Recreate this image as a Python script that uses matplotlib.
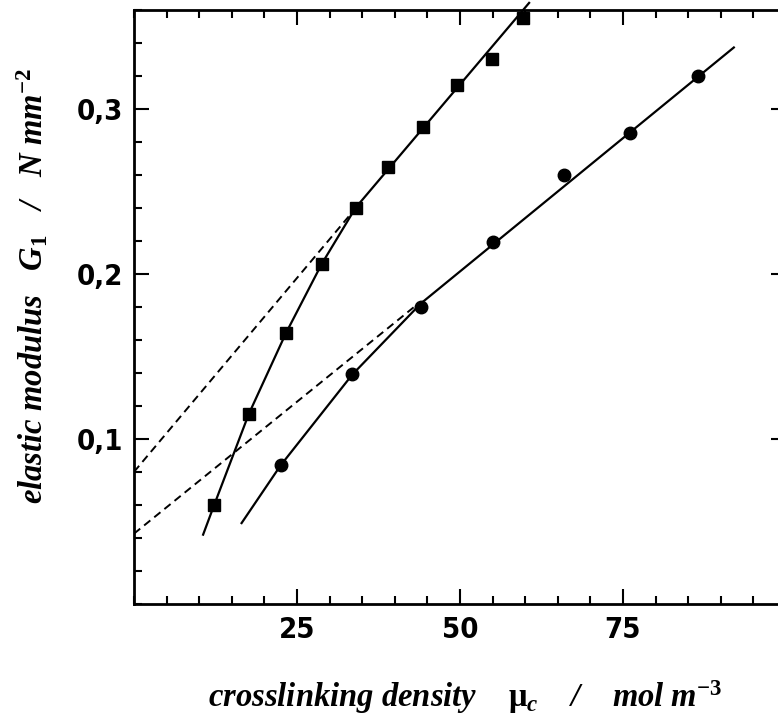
import matplotlib
matplotlib.use("Agg")
import matplotlib.pyplot as plt
from matplotlib.ticker import MultipleLocator, FixedLocator, FixedFormatter

# ---- data ----
sq_x = [12.3, 17.6, 23.3, 28.8, 34.0, 38.9, 44.3, 49.6, 54.9, 59.7]
sq_y = [0.060, 0.115, 0.164, 0.206, 0.240, 0.2645, 0.289, 0.314, 0.330, 0.355]
ci_x = [22.5, 33.5, 44.0, 55.0, 66.0, 76.0, 86.5]
ci_y = [0.084, 0.139, 0.180, 0.219, 0.2595, 0.285, 0.3195]

# fitted curves (solid) and extrapolations (dashed)
sq_solid_x = [10.6, 12.3, 17.6, 23.3, 28.8, 34.0, 60.6]
sq_solid_y = [0.042, 0.060, 0.115, 0.164, 0.206, 0.240, 0.364]
sq_dash_x = [0.0, 33.0]
sq_dash_y = [0.080, 0.235]
ci_solid_x = [16.5, 22.5, 33.5, 44.0, 92.0]
ci_solid_y = [0.049, 0.084, 0.139, 0.182, 0.337]
ci_dash_x = [0.0, 43.0]
ci_dash_y = [0.0426, 0.180]

x_major = [25, 50, 75]
x_labels = ["25", "50", "75"]
y_major = [0.1, 0.2, 0.3]
y_labels = ["0,1", "0,2", "0,3"]

xlabel = "crosslinking density    $\\mathrm{\\mu}_{c}$    /    mol m$^{-3}$"
ylabel = "elastic modulus   G$_{1}$   /   N mm$^{-2}$"

plt.rcParams['mathtext.fontset'] = 'custom'
plt.rcParams['mathtext.rm'] = 'Liberation Serif:bold'
plt.rcParams['mathtext.it'] = 'Liberation Serif:bold:italic'
plt.rcParams['mathtext.bf'] = 'Liberation Serif:bold'

fig = plt.figure(figsize=(7.78, 7.23), dpi=100)
ax = fig.add_axes([134/778, 119/723, 652/778, 594.5/723])

lw = 1.6
dash = (0, (4.1, 2.6))
ax.plot(sq_solid_x, sq_solid_y, color='black', lw=lw, clip_on=False, zorder=2)
ax.plot(sq_dash_x, sq_dash_y, color='black', lw=1.4, ls=dash, zorder=2)
ax.plot(ci_solid_x, ci_solid_y, color='black', lw=lw, zorder=2)
ax.plot(ci_dash_x, ci_dash_y, color='black', lw=1.4, ls=dash, zorder=2)
ax.plot(sq_x, sq_y, ls='none', marker='s', ms=9.3, color='black', zorder=3, clip_on=False)
ax.plot(ci_x, ci_y, ls='none', marker='o', ms=9.0, color='black', zorder=3)

ax.set_xlim(0, 100)
ax.set_ylim(0, 0.36)

ax.xaxis.set_major_locator(FixedLocator(x_major))
ax.xaxis.set_major_formatter(FixedFormatter(x_labels))
ax.xaxis.set_minor_locator(MultipleLocator(5))
ax.yaxis.set_major_locator(FixedLocator(y_major))
ax.yaxis.set_major_formatter(FixedFormatter(y_labels))
ax.yaxis.set_minor_locator(MultipleLocator(0.02))

ax.tick_params(which='both', direction='in', top=True, right=True, width=1.5, color='black')
ax.tick_params(which='major', length=11)
ax.tick_params(which='minor', length=6)
ax.tick_params(axis='x', which='major', pad=9)
ax.tick_params(axis='y', which='major', pad=8)
for lab in ax.get_xticklabels() + ax.get_yticklabels():
    lab.set_fontfamily('DejaVu Sans')
    lab.set_fontstretch('condensed')
    lab.set_fontweight('bold')
    lab.set_fontsize(21)

for s in ax.spines.values():
    s.set_linewidth(2.0)

lblfont = dict(family='Liberation Serif', weight='bold', style='italic', size=23.5)
ax.set_xlabel(xlabel, **lblfont)
ax.set_ylabel(ylabel, **lblfont)
ax.xaxis.set_label_coords((465 - 134) / 652, -(707 - 604) / 594.5, transform=ax.transAxes)
ax.yaxis.set_label_coords(-(134 - 50) / 652, (604 - 286) / 594.5, transform=ax.transAxes)
ax.xaxis.label.set_va('baseline')

fig.savefig("out.png", dpi=100)
